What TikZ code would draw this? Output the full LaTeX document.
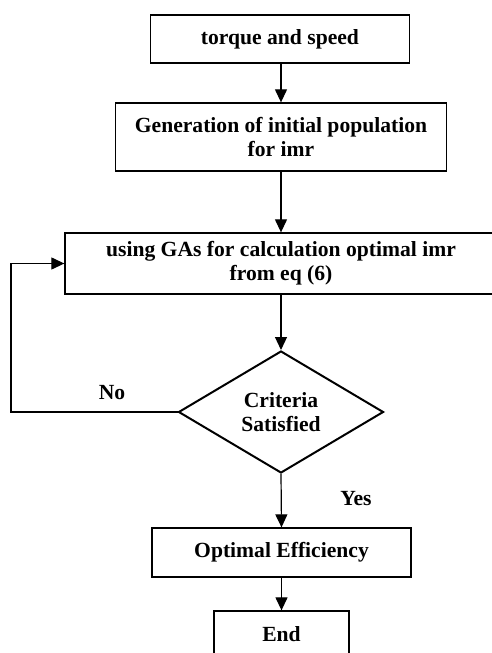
\documentclass[tikz,border=0pt]{standalone}
\usepackage{fontspec}
\setmainfont{Liberation Serif}
\usetikzlibrary{arrows.meta,shapes.geometric}
\begin{document}
\begin{tikzpicture}[x=1bp,y=-1bp,
  every node/.style={font=\fontsize{21.6bp}{24bp}\selectfont\bfseries},
  box/.style={draw,line width=1.3bp,rectangle,inner sep=0pt,align=center},
  dec/.style={draw,line width=2bp,shape=diamond,inner sep=0pt,align=center,minimum width=205bp,minimum height=122bp,aspect=1.68},
  arr/.style={line width=1.2bp,-{Triangle[length=13bp,width=12bp]}},
  lbl/.style={inner sep=0pt}]
\useasboundingbox (0,0) rectangle (492,653);
\begin{scope}
\clip (0,0) rectangle (492,653);
\node[box,minimum width=259bp,minimum height=48bp] (b1) at (280,39) {torque and speed};
\node[box,minimum width=331bp,minimum height=68bp] (b2) at (281,137) {Generation of initial population\\for imr};
\node[box,minimum width=432bp,minimum height=61bp] (b3) at (281,263.5) {using GAs for calculation optimal imr\\from eq (6)};
\node[dec] (d) at (281,412) {Criteria\\Satisfied};
\node[box,minimum width=259bp,minimum height=49bp] (b4) at (281.5,552.5) {Optimal Efficiency};
\node[box,minimum width=135bp,minimum height=46bp] (b5) at (281.5,634) {End};
\node[lbl] (no) at (112,393) {No};
\node[lbl] (yes) at (356,499) {Yes};
\coordinate (lp) at (11,412);
\draw[arr] (b1.south -| 281,0) -- (b2.north);
\draw[arr] (b2.south) -- (b3.north);
\draw[arr] (b3.south) -- (d.north);
\draw[arr] (d.south) -- (b4.north);
\draw[arr] (b4.south) -- (b5.north);
\draw[arr] (d.west) -- (lp) |- (b3.west);
\end{scope}
\end{tikzpicture}
\end{document}
